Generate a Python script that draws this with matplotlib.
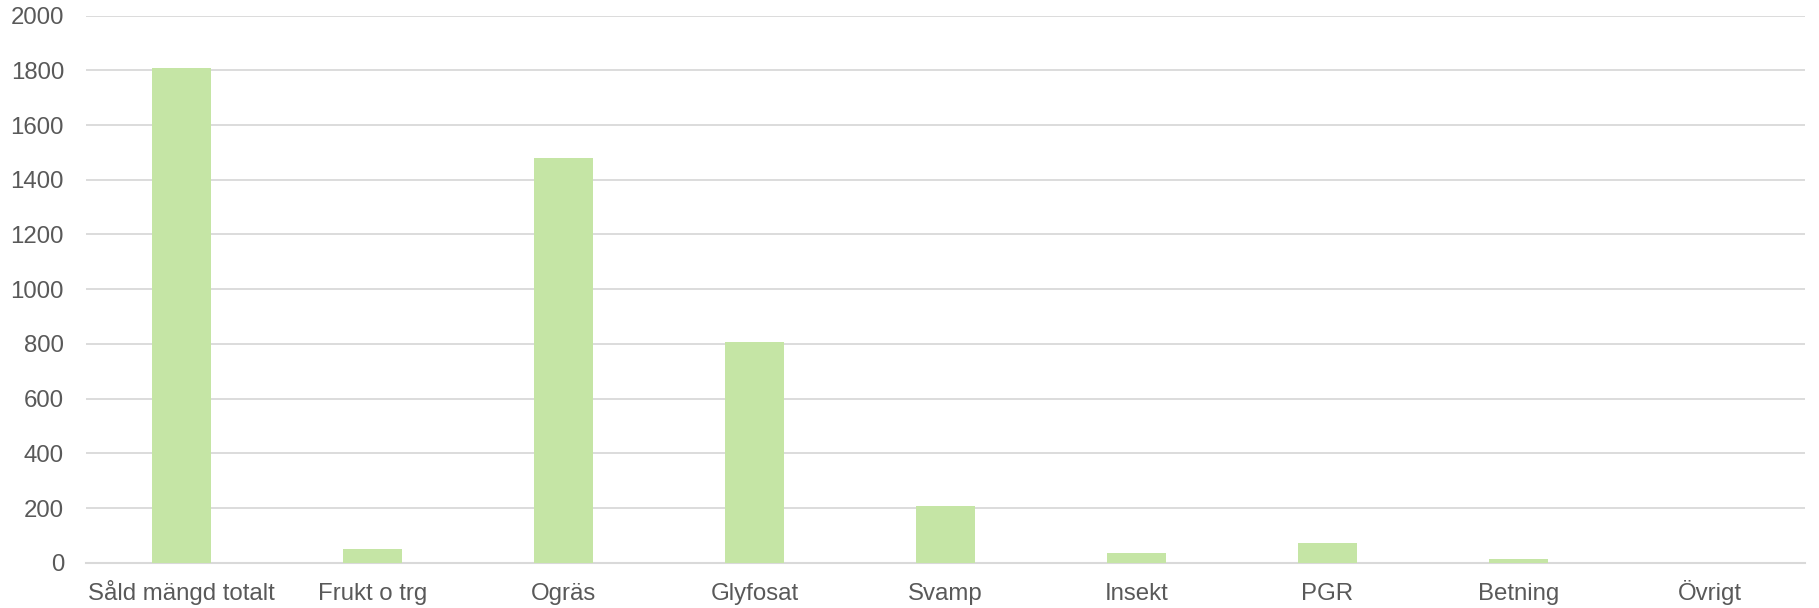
import matplotlib
matplotlib.use("Agg")
import matplotlib.pyplot as plt
import numpy as np

categories = ["Såld mängd totalt", "Frukt o trg", "Ogräs", "Glyfosat", "Svamp",
              "Insekt", "PGR", "Betning", "Övrigt"]
values = [1810, 49, 1481, 807, 208, 34, 72, 13, 0]
y_ticks = [0, 200, 400, 600, 800, 1000, 1200, 1400, 1600, 1800, 2000]

plt.rcParams["font.family"] = ["Liberation Sans", "DejaVu Sans"]

fig = plt.figure(figsize=(18.19, 6.08), dpi=100)
ax = fig.add_axes([0.0473, 0.0745, 0.9450, 0.8997])

x = np.arange(len(categories))
ax.bar(x, values, width=0.31, color="#C5E5A5", zorder=3)

ax.set_xlim(-0.5, len(categories) - 0.5)
ax.set_ylim(0, 2000)
ax.set_yticks(y_ticks)
ax.set_xticks(x)
ax.set_xticklabels(categories, va="baseline")
ax.grid(axis="y", color="#D9D9D9", linewidth=1.3, zorder=0)
for side in ("top", "right", "left"):
    ax.spines[side].set_visible(False)
ax.spines["bottom"].set_color("#D9D9D9")
ax.spines["bottom"].set_linewidth(1.5)
ax.tick_params(axis="both", length=0, labelsize=17.3, colors="#595959")
ax.tick_params(axis="x", pad=26.9)
ax.tick_params(axis="y", pad=15.8)

fig.savefig("out.png", dpi=100)
